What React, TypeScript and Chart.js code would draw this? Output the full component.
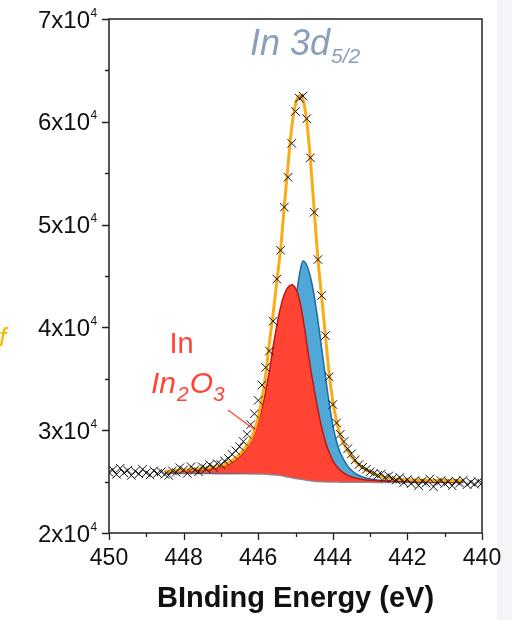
import React, { useEffect, useRef } from 'react';
import { Chart, registerables } from 'chart.js';

Chart.register(...registerables);

// ---- measured scan (crosses), binding energy in eV ----
const scanEnergy = [
  450.0, 449.9, 449.8, 449.7, 449.6, 449.5, 449.4, 449.3, 449.2, 449.1,
  449.0, 448.9, 448.8, 448.7, 448.6, 448.5, 448.4, 448.3, 448.2, 448.1,
  448.0, 447.9, 447.8, 447.7, 447.6, 447.5, 447.4, 447.3, 447.2, 447.1,
  447.0, 446.9, 446.8, 446.7, 446.6, 446.5, 446.4, 446.3, 446.2, 446.1,
  446.0, 445.9, 445.8, 445.7, 445.6, 445.5, 445.4, 445.3, 445.2, 445.1,
  445.0, 444.9, 444.8, 444.7, 444.6, 444.5, 444.4, 444.3, 444.2, 444.1,
  444.0, 443.9, 443.8, 443.7, 443.6, 443.5, 443.4, 443.3, 443.2, 443.1,
  443.0, 442.9, 442.8, 442.7, 442.6, 442.5, 442.4, 442.3, 442.2, 442.1,
  442.0, 441.9, 441.8, 441.7, 441.6, 441.5, 441.4, 441.3, 441.2, 441.1,
  441.0, 440.9, 440.8, 440.7, 440.6, 440.5, 440.4, 440.3, 440.2, 440.1,
  440.0,
];
const scanCounts = [
  25900, 26150, 25700, 26300, 25850, 26100, 25600, 26000, 25750, 26200,
  25850, 25650, 26050, 25800, 25950, 25700, 25600, 26050, 25900, 26350,
  26150, 25800, 26450, 26150, 25950, 26450, 26250, 26650, 26400, 26750,
  26650, 27000, 27250, 27650, 28000, 28400, 28900, 29600, 30550, 31600,
  32900, 34400, 36100, 37700, 40600, 44700, 47500, 51700, 54600, 57900,
  61000, 62300, 62500, 60300, 56500, 51200, 46600, 43100, 39200, 35200,
  32500, 30700, 29600, 28900, 28200, 27700, 27100, 26650, 26400, 26200,
  25950, 25800, 25600, 25750, 25400, 25550, 25300, 25150, 25400, 24900,
  25200, 24800, 25100, 24600, 25050, 24850, 25250, 24500, 24950, 25100,
  24800, 25000, 24600, 25050, 24850, 25150, 24700, 24950, 24750, 25000,
  24850,
];

// ---- fitted curves ----
const fitEnergy = [
  448.5, 448.0, 447.5, 447.0, 446.8, 446.6, 446.4, 446.2, 446.1, 446.0,
  445.9, 445.8, 445.7, 445.6, 445.5, 445.4, 445.3, 445.2, 445.1, 445.0,
  444.9, 444.8, 444.7, 444.6, 444.5, 444.4, 444.3, 444.2, 444.1, 444.0,
  443.9, 443.8, 443.6, 443.4, 443.2, 443.0, 442.7, 442.4, 442.0, 441.5,
  441.0, 440.5,
];
const backgroundCounts = [
  25850, 25840, 25830, 25820, 25815, 25810, 25805, 25800, 25795, 25790,
  25780, 25770, 25750, 25720, 25680, 25630, 25570, 25500, 25430, 25360,
  25300, 25240, 25180, 25130, 25090, 25060, 25040, 25025, 25015, 25005,
  25000, 24995, 24990, 24985, 24980, 24976, 24972, 24969, 24966, 24964,
  24962, 24960,
];
const in2o3Counts = [
  25950, 26050, 26200, 26450, 26700, 27100, 27800, 28850, 29700, 30800,
  32100, 33800, 35800, 38100, 40200, 41950, 43200, 43900, 44150, 43800,
  42800, 40900, 38500, 36100, 34000, 32000, 30300, 28900, 27850, 27050,
  26500, 26100, 25600, 25350, 25200, 25120, 25060, 25030, 25000, 24985,
  24972, 24965,
];
const inCounts = [
  25860, 25850, 25845, 25840, 25840, 25845, 25860, 25900, 25950, 26030,
  26150, 26350, 26700, 27300, 28300, 29900, 32200, 35300, 38800, 42400,
  45000, 46450, 46050, 44900, 43100, 40700, 38000, 35300, 32700, 30500,
  28900, 27800, 26500, 25800, 25450, 25250, 25100, 25040, 25010, 24990,
  24975, 24965,
];
const envelopeCounts = [
  26000, 26120, 26280, 26550, 26850, 27300, 28050, 29100, 30000, 31250,
  33000, 35400, 38500, 41300, 44500, 47600, 51800, 55800, 59500, 61700,
  62550, 62150, 60100, 56300, 51500, 46700, 43000, 39300, 35600, 32800,
  30900, 29500, 28000, 26950, 26350, 25950, 25500, 25280, 25180, 25120,
  25100, 25090,
];

// ---- axes ----
const xMajorTicks = [450, 448, 446, 444, 442, 440];
const xMinorTicks = [449, 447, 445, 443, 441];
const yMajorTicks = [20000, 30000, 40000, 50000, 60000, 70000];
const yTickMantissa = ['2x10', '3x10', '4x10', '5x10', '6x10', '7x10'];
const yTickExponent = ['4', '4', '4', '4', '4', '4'];
const yMinorTicks = [25000, 35000, 45000, 55000, 65000];

const FONT = '"Liberation Sans", Arial, Helvetica, sans-serif';
const RED = '#FF4433';

const pts = (xs: number[], ys: number[]) => xs.map((x, i) => ({ x, y: ys[i] }));

const decorPlugin = {
  id: 'decor',
  beforeDraw(chart: any) {
    const ctx = chart.ctx;
    ctx.save();
    ctx.fillStyle = '#ffffff';
    ctx.fillRect(0, 0, chart.width, chart.height);
    ctx.fillStyle = '#f3f5f8';
    ctx.fillRect(497, 0, chart.width - 497, chart.height);
    ctx.restore();
  },
  afterDraw(chart: any) {
    const ctx = chart.ctx;
    const a = chart.chartArea;
    const xs = chart.scales.x;
    const ys = chart.scales.y;
    ctx.save();
    // frame
    ctx.strokeStyle = '#222';
    ctx.lineWidth = 1.5;
    ctx.strokeRect(a.left, a.top, a.right - a.left, a.bottom - a.top);
    // ticks
    ctx.lineWidth = 1.3;
    ctx.beginPath();
    xMajorTicks.forEach((v) => {
      const p = Math.round(xs.getPixelForValue(v)) + 0.5;
      ctx.moveTo(p, a.bottom);
      ctx.lineTo(p, a.bottom + 7);
    });
    xMinorTicks.forEach((v) => {
      const p = Math.round(xs.getPixelForValue(v)) + 0.5;
      ctx.moveTo(p, a.bottom);
      ctx.lineTo(p, a.bottom + 4);
    });
    yMajorTicks.forEach((v) => {
      const p = Math.round(ys.getPixelForValue(v)) + 0.5;
      ctx.moveTo(a.left, p);
      ctx.lineTo(a.left - 7, p);
    });
    yMinorTicks.forEach((v) => {
      const p = Math.round(ys.getPixelForValue(v)) + 0.5;
      ctx.moveTo(a.left, p);
      ctx.lineTo(a.left - 4, p);
    });
    ctx.stroke();

    // x tick labels
    ctx.fillStyle = '#111';
    ctx.textBaseline = 'alphabetic';
    ctx.textAlign = 'center';
    ctx.font = `23px ${FONT}`;
    xMajorTicks.forEach((v) => {
      ctx.fillText(String(v), xs.getPixelForValue(v), a.bottom + 32);
    });
    // y tick labels with superscript
    yMajorTicks.forEach((v, i) => {
      const p = ys.getPixelForValue(v);
      ctx.textAlign = 'right';
      ctx.font = `24px ${FONT}`;
      ctx.fillText(yTickMantissa[i], 90, p + 8.5);
      ctx.textAlign = 'left';
      ctx.font = `12px ${FONT}`;
      ctx.fillText(yTickExponent[i], 90.5, p - 2.5);
    });
    // x title
    ctx.textAlign = 'center';
    ctx.font = `bold 29px ${FONT}`;
    ctx.fillText('BInding Energy (eV)', (a.left + a.right) / 2, 607);

    // In 3d5/2
    ctx.fillStyle = '#8aa0ba';
    ctx.textAlign = 'left';
    ctx.font = `italic 36px ${FONT}`;
    ctx.fillText('In 3d', 250, 55);
    const w1 = ctx.measureText('In 3d').width;
    ctx.font = `italic 21px ${FONT}`;
    ctx.fillText('5/2', 250 + w1 + 1, 63);

    // In label
    ctx.fillStyle = RED;
    ctx.textAlign = 'center';
    ctx.font = `29px ${FONT}`;
    ctx.fillText('In', 181.5, 353);
    // In2O3 label
    ctx.textAlign = 'left';
    let cx = 151;
    ctx.font = `italic 30px ${FONT}`;
    ctx.fillText('In', cx, 393);
    cx += ctx.measureText('In').width + 1;
    ctx.font = `italic 21px ${FONT}`;
    ctx.fillText('2', cx, 401);
    cx += ctx.measureText('2').width + 1;
    ctx.font = `italic 30px ${FONT}`;
    ctx.fillText('O', cx, 393);
    cx += ctx.measureText('O').width;
    ctx.font = `italic 21px ${FONT}`;
    ctx.fillText('3', cx, 401);
    // leader line
    ctx.strokeStyle = RED;
    ctx.lineWidth = 1.2;
    ctx.beginPath();
    ctx.moveTo(228, 410);
    ctx.lineTo(255, 430);
    ctx.stroke();

    // stray "f" at left edge
    ctx.fillStyle = '#F5B800';
    ctx.font = `italic 26px ${FONT}`;
    ctx.fillText('f', -1, 346);
    ctx.restore();
  },
};

export default function App() {
  const ref = useRef<HTMLCanvasElement>(null);
  useEffect(() => {
    const chart = new Chart(ref.current as HTMLCanvasElement, {
      type: 'line',
      data: {
        datasets: [
          {
            label: 'Background',
            data: pts(fitEnergy, backgroundCounts),
            borderColor: '#8a8a8a',
            borderWidth: 2.5,
            pointRadius: 0,
            fill: false,
            cubicInterpolationMode: 'monotone',
            order: 6,
          },
          {
            label: 'In',
            data: pts(fitEnergy, inCounts),
            borderColor: '#1E6C9C',
            backgroundColor: '#4FA8D8',
            borderWidth: 1.5,
            pointRadius: 0,
            fill: { target: 0 },
            cubicInterpolationMode: 'monotone',
            order: 5,
          },
          {
            label: 'In2O3',
            data: pts(fitEnergy, in2o3Counts),
            borderColor: '#C0170E',
            backgroundColor: RED,
            borderWidth: 1.5,
            pointRadius: 0,
            fill: { target: 0 },
            cubicInterpolationMode: 'monotone',
            order: 4,
          },
          {
            label: 'Envelope',
            data: pts(fitEnergy, envelopeCounts),
            borderColor: '#F9AC16',
            borderWidth: 3,
            pointRadius: 0,
            fill: false,
            cubicInterpolationMode: 'monotone',
            order: 3,
          },
          {
            label: 'Data',
            data: pts(scanEnergy, scanCounts),
            showLine: false,
            pointStyle: 'crossRot',
            pointRadius: 6,
            pointBorderWidth: 1,
            borderColor: '#111',
            backgroundColor: '#111',
            order: 1,
          },
        ] as any,
      },
      options: {
        animation: false,
        responsive: false,
        events: [],
        layout: { padding: { top: 19, right: 30, left: 0, bottom: 0 } },
        plugins: { legend: { display: false }, tooltip: { enabled: false } },
        scales: {
          x: {
            type: 'linear',
            min: 440,
            max: 450,
            reverse: true,
            ticks: { display: false },
            grid: { display: false },
            border: { display: false },
            afterFit: (s: any) => {
              s.height = 87;
            },
          },
          y: {
            type: 'linear',
            min: 20000,
            max: 70000,
            ticks: { display: false },
            grid: { display: false },
            border: { display: false },
            afterFit: (s: any) => {
              s.width = 109;
            },
          },
        },
      } as any,
      plugins: [decorPlugin],
    });
    return () => chart.destroy();
  }, []);
  return (
    <div style={{ position: 'absolute', left: 0, top: 0, width: 512, height: 620 }}>
      <canvas ref={ref} width={512} height={620} style={{ display: 'block' }} />
    </div>
  );
}
